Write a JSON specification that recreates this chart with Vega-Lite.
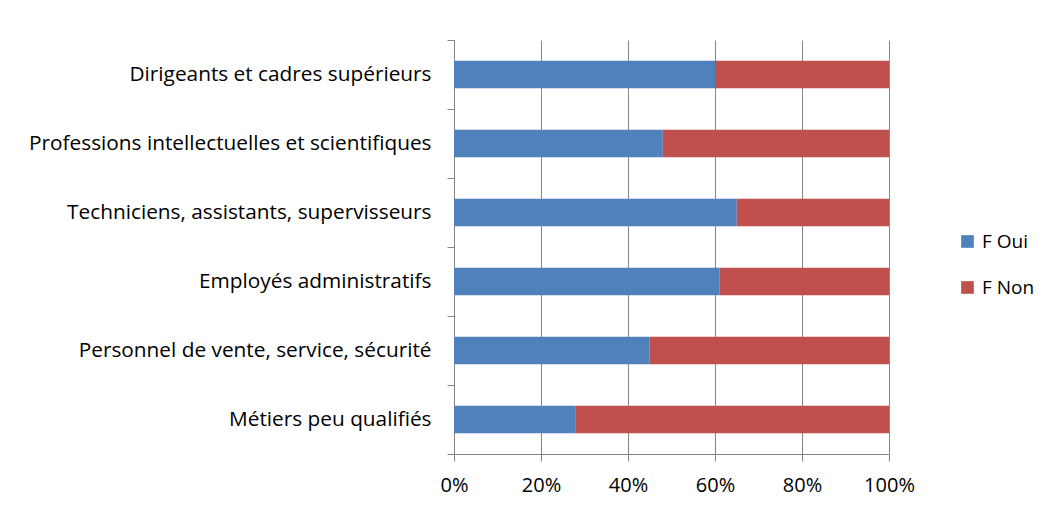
{
  "$schema": "https://vega.github.io/schema/vega-lite/v6.json",
  "autosize": {"type": "none"},
  "width": 435,
  "height": 414,
  "padding": {"left": 454, "top": 40, "right": 159, "bottom": 56},
  "background": "white",
  "config": {
    "view": {"stroke": null},
    "font": "Open Sans",
    "axis": {"labelColor": "#000000", "domainColor": "#868686", "tickColor": "#868686", "gridColor": "#868686", "domainWidth": 1, "tickWidth": 1, "gridWidth": 1}
  },
  "data": {
    "values": [
      {"cat": "Dirigeants et cadres supérieurs", "serie": "F Oui", "v": 60},
      {"cat": "Dirigeants et cadres supérieurs", "serie": "F Non", "v": 40},
      {"cat": "Professions intellectuelles et scientifiques", "serie": "F Oui", "v": 48},
      {"cat": "Professions intellectuelles et scientifiques", "serie": "F Non", "v": 52},
      {"cat": "Techniciens, assistants, supervisseurs", "serie": "F Oui", "v": 65},
      {"cat": "Techniciens, assistants, supervisseurs", "serie": "F Non", "v": 35},
      {"cat": "Employés administratifs", "serie": "F Oui", "v": 61},
      {"cat": "Employés administratifs", "serie": "F Non", "v": 39},
      {"cat": "Personnel de vente, service, sécurité", "serie": "F Oui", "v": 45},
      {"cat": "Personnel de vente, service, sécurité", "serie": "F Non", "v": 55},
      {"cat": "Métiers peu qualifiés", "serie": "F Oui", "v": 28},
      {"cat": "Métiers peu qualifiés", "serie": "F Non", "v": 72}
    ]
  },
  "mark": {"type": "bar", "height": {"band": 0.4}},
  "encoding": {
    "y": {
      "field": "cat", "type": "nominal", "sort": null,
      "scale": {"paddingInner": 0, "paddingOuter": 0},
      "axis": {"title": null, "tickBand": "extent", "tickSize": 7, "labelPadding": 16, "labelFontSize": 20.8, "labelLimit": 600, "grid": false}
    },
    "x": {
      "field": "v", "type": "quantitative", "stack": "normalize",
      "scale": {"domain": [0, 1], "nice": false},
      "axis": {"title": null, "format": "%", "values": [0, 0.2, 0.4, 0.6, 0.8, 1], "tickSize": 7, "labelPadding": 14, "labelFontSize": 20, "labelFlush": false, "labelOverlap": false, "grid": true, "domain": true}
    },
    "color": {
      "field": "serie", "type": "nominal",
      "scale": {"domain": ["F Oui", "F Non"], "range": ["#4F81BD", "#C0504D"]},
      "legend": {"title": null, "orient": "none", "legendX": 504, "legendY": 192, "symbolType": "square", "symbolSize": 160, "symbolStrokeWidth": 0, "labelFontSize": 19, "labelColor": "#000000", "rowPadding": 26, "labelOffset": 5}
    },
    "order": {"field": "serie", "sort": "descending"}
  }
}
